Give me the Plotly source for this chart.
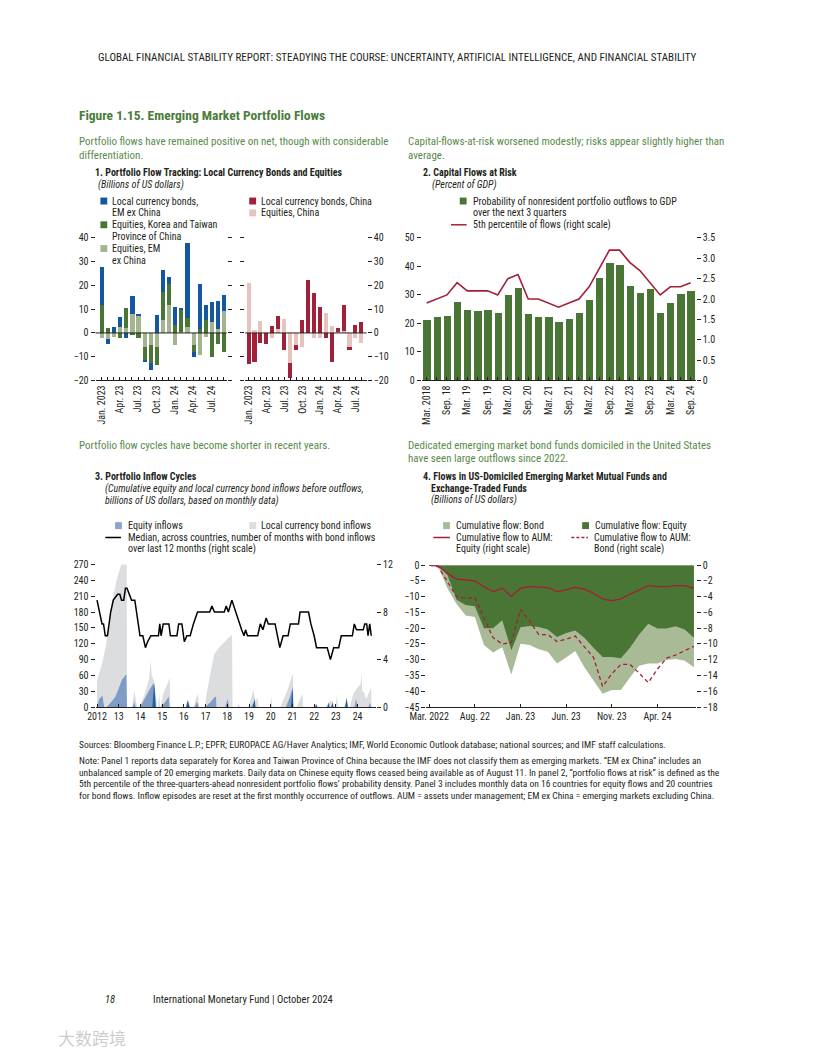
import plotly.graph_objects as go

W, H = 816, 1056
OFF = 8  # body margin of the page
def px(x): return (x - OFF) / W
def py(y): return 1 - (y - OFF) / H

FONT = "Liberation Sans Narrow, Roboto Condensed, DejaVu Sans Condensed, Arial Narrow, sans-serif"
TXT = "#231F20"
BLUE = "#12579F"
DGREEN = "#4A7635"
LGREEN = "#A3B58E"
RED = "#A3203A"
PINK = "#E6C4BE"
TGREEN = "#4C7C3A"
SGREEN = "#5A8A4A"

# ---------------- Panel 1 data ----------------
p1_ticktext = ["Jan. 2023", "", "", "Apr. 23", "", "", "Jul. 23", "", "", "Oct. 23", "", "",
               "Jan. 24", "", "", "Apr. 24", "", "", "Jul. 24", "", ""]
eq_em_ex_china = [-2, -2.5, -1.8, 2.7, 2.2, 8, 7.2, -6, -5, -6, 5.5, 11.8, -5.2, 0.5, 2.7, -5, -9.3, -1.5, 4.7, 1.8, 9.3]
eq_korea_taiwan = [12, 2.2, 0.6, -2, 8.3, -0.8, -2.3, -5.5, -7.5, -7.5, 11.8, 8.7, 3.5, 9.3, 3.6, -3, 1.8, 5.5, -10.3, -4.5, -8.2]
lcb_em_ex_china = [16, -2, 2, 4.1, -2, 7.5, 0.8, -0.7, -3, 7.5, 9.2, 3, 7.5, 0.7, 31.7, -2, 18.7, 6.3, 8.3, 11.7, 6.7]
eq_china = [21, 1.2, 5, 0, -2, 1.5, 6, -12.5, -5, -6, 0, -2, -2.2, 8.5, 3, 0.5, 1, -6, -2, -4]
lcb_china = [-13, -12, -4, -4.7, 3, 5.5, -7.2, -6.5, -2, 5.5, 22.5, 17, 11, -2, -12, 1.5, 11, -1, 3.5, 4.6]

# ---------------- Panel 2 data ----------------
p2_ticktext = ["Mar. 2018", "", "Sep. 18", "", "Mar. 19", "", "Sep. 19", "", "Mar. 20", "", "Sep. 20", "",
               "Mar. 21", "", "Sep. 21", "", "Mar. 22", "", "Sep. 22", "", "Mar. 23", "", "Sep. 23", "",
               "Mar. 24", "", "Sep. 24"]
prob_outflows = [21.3, 22.3, 22.7, 27.5, 24.8, 24.4, 24.8, 23.7, 30.0, 32.4, 23.4, 22.3, 22.3, 20.6,
                 21.6, 23.7, 28.2, 35.9, 41.1, 40.7, 33.1, 30.7, 32.1, 23.7, 27.2, 30.3, 31.5]
pct5_flows = [1.9, 2.0, 2.1, 2.4, 2.2, 2.2, 2.2, 2.1, 2.5, 2.6, 2.0, 2.0, 1.9, 1.8, 1.9, 2.0, 2.3,
              2.75, 3.2, 3.2, 2.9, 2.7, 2.4, 2.1, 2.3, 2.3, 2.4]

# ---------------- Panel 3 data ----------------
p3_tickvals = list(range(2012, 2025))
p3_ticktext = ["2012", "13", "14", "15", "16", "17", "18", "19", "20", "21", "22", "23", "24"]
bond_t = [2012.00, 2012.25, 2012.45, 2012.70, 2012.90, 2013.15, 2013.37, 2013.38,
          2013.62, 2013.72, 2013.80, 2013.86,
          2013.97, 2014.20, 2014.40, 2014.47, 2014.52, 2014.62, 2014.70, 2014.78,
          2014.80, 2014.86, 2014.91,
          2014.93, 2015.05, 2015.20, 2015.35, 2015.38,
          2016.10, 2016.20, 2016.30,
          2016.45, 2016.55, 2016.65, 2016.70,
          2016.97, 2017.05, 2017.25, 2017.40, 2017.60, 2017.85, 2018.05, 2018.22, 2018.24,
          2018.45, 2018.52, 2018.58,
          2018.98, 2019.08, 2019.20, 2019.30, 2019.38, 2019.45,
          2019.97, 2020.02, 2020.07,
          2020.45, 2020.60, 2020.80, 2020.95, 2021.02, 2021.05,
          2021.20, 2021.35, 2021.45, 2021.50,
          2021.95, 2022.05, 2022.12,
          2022.55, 2022.70, 2022.85, 2022.92,
          2022.98, 2023.05, 2023.10,
          2023.40, 2023.50, 2023.58,
          2023.65, 2023.80, 2024.00, 2024.15, 2024.18, 2024.22, 2024.30, 2024.40, 2024.55, 2024.62, 2024.64]
bond_v = [50, 85, 125, 200, 240, 275, 275, 0,
          0, 32, 10, 0,
          0, 25, 55, 87, 60, 50, 25, 0,
          0, 25, 0,
          0, 25, 40, 55, 0,
          0, 15, 0,
          0, 15, 25, 0,
          0, 25, 70, 100, 112, 122, 131, 137, 0,
          0, 6, 0,
          0, 15, 32, 10, 18, 0,
          0, 20, 0,
          0, 15, 35, 55, 63, 0,
          0, 15, 25, 0,
          0, 6, 0,
          0, 10, 12, 0,
          0, 22, 0,
          0, 10, 0,
          0, 25, 37, 45, 67, 30, 28, 15, 30, 37, 0]
eq_t = [2012.00, 2012.10, 2012.25, 2012.33,
        2012.45, 2012.70, 2012.85, 2013.00, 2013.15, 2013.35, 2013.38,
        2013.65, 2013.72, 2013.78,
        2013.98, 2014.25, 2014.45, 2014.60, 2014.66, 2014.72,
        2014.95, 2015.15, 2015.30, 2015.34,
        2016.50, 2016.60, 2016.68,
        2016.98, 2017.20, 2017.40, 2017.48, 2017.50,
        2017.90, 2018.02, 2018.08,
        2019.10, 2019.20, 2019.26,
        2020.70, 2020.85, 2021.00, 2021.03,
        2022.05, 2022.10, 2022.15,
        2022.60, 2022.66, 2022.72, 2022.78, 2022.84, 2022.90,
        2023.40, 2023.50, 2023.56,
        2023.85, 2023.93, 2024.00,
        2024.50, 2024.57, 2024.62]
eq_v = [0, 15, 22, 0,
        0, 12, 20, 35, 52, 62, 0,
        0, 10, 0,
        0, 20, 35, 45, 35, 0,
        0, 10, 20, 0,
        0, 10, 0,
        0, 8, 18, 20, 0,
        0, 15, 0,
        0, 8, 0,
        0, 15, 35, 0,
        0, 5, 0,
        0, 8, 0, 0, 8, 0,
        0, 17, 0,
        0, 15, 0,
        0, 8, 0]
eq_dark_t = [2014.55, 2014.63, 2014.70,
             2016.10, 2016.18, 2016.26,
             2019.18, 2019.25, 2019.30,
             2020.93, 2021.01, 2021.04,
             2022.06, 2022.10, 2022.14,
             2022.62, 2022.66, 2022.70, 2022.80, 2022.84, 2022.88,
             2023.44, 2023.50, 2023.54]
eq_dark_v = [0, 47, 0, 0, 13, 0, 0, 16, 0, 0, 39, 0, 0, 5, 0, 0, 8, 0, 0, 9, 0, 0, 17, 0]
median_t = [2012.00, 2012.12, 2012.23, 2012.30, 2012.38, 2012.48, 2012.63, 2012.75, 2012.95, 2013.05,
            2013.13, 2013.23, 2013.31, 2013.38, 2013.50, 2013.59, 2013.74, 2013.88, 2013.98, 2014.11,
            2014.23, 2014.33, 2014.48, 2014.83, 2014.89, 2014.95, 2015.05, 2015.31, 2015.38, 2015.68,
            2015.76, 2015.91, 2016.02, 2016.14, 2016.29, 2016.44, 2016.63, 2017.19, 2017.29, 2017.41,
            2017.86, 2017.95, 2018.05, 2018.21, 2018.39, 2018.54, 2018.66, 2018.77, 2018.84, 2018.93,
            2019.40, 2019.52, 2019.64, 2019.79, 2019.89, 2020.20, 2020.30, 2020.42, 2020.57, 2020.80,
            2020.90, 2021.28, 2021.35, 2021.74, 2021.85, 2022.00, 2022.11, 2022.60, 2022.75, 2022.90,
            2023.13, 2023.25, 2023.76, 2023.85, 2023.95, 2024.26, 2024.33, 2024.42, 2024.48, 2024.56, 2024.63]
median_v = [9, 8, 7, 7, 6, 6, 8, 9, 9.5, 9.5,
            9, 9, 10, 10, 9.5, 9, 9, 7, 6, 6,
            5, 5.5, 6, 6, 7, 6, 7, 7, 6, 6,
            7, 7, 5.5, 6, 6, 7, 8, 8, 8.5, 8,
            8, 8.5, 8, 9, 8, 7, 6.5, 6, 6.5, 6,
            6, 7, 6.5, 7.5, 7, 7, 6, 5, 6, 6,
            7, 7, 8, 8, 7, 6, 5, 5, 4, 5,
            5, 6, 6, 7, 6.5, 6.5, 7, 7, 6, 7, 6]

# ---------------- Panel 4 data ----------------
p4_tickvals = [0, 5, 10, 15, 20, 25]
p4_ticktext = ["Mar. 2022", "Aug. 22", "Jan. 23", "Jun. 23", "Nov. 23", "Apr. 24"]
p4_month_index = list(range(30))
cum_flow_equity = [0, -0.3, -3.1, -11, -12.6, -13, -20, -20, -17.5, -27, -19.7, -19.3, -19.6, -20.4, -22.8,
                   -21.5, -20.7, -23, -26.2, -29.1, -29.1, -29.5, -26.2, -22, -18.6, -20.1, -20.1, -19.4, -20.4, -23]
cum_flow_bond = [0, -0.5, -7.3, -12.3, -16, -16.4, -25.3, -27.7, -26, -34.7, -24.9, -25.3, -26.7, -27.5, -31.2,
                 -29.3, -27.2, -32.4, -36.6, -40.8, -39.6, -39.6, -35.6, -31.9, -31.2, -31.2, -30.1, -29.8, -30.3, -32.4]
aum_equity = [0, -0.08, -1.05, -1.76, -1.88, -2.0, -2.72, -3.35, -2.93, -3.97, -2.93, -2.72, -2.8, -2.85, -3.35,
              -3.14, -2.8, -3.05, -3.56, -4.27, -4.52, -4.27, -3.68, -3.14, -2.59, -2.72, -2.72, -2.59, -2.59, -2.93]
aum_bond = [0, -0.2, -2.1, -4.0, -4.2, -4.1, -6.7, -9.2, -10.0, -9.8, -5.6, -7.1, -8.8, -8.8, -9.7,
            -9.4, -9.0, -10.3, -11.7, -15.4, -13.8, -12.6, -12.6, -13.7, -14.9, -13.2, -11.8, -11.4, -10.9, -10.3]

fig = go.Figure()

# Panel 1 left
idx1 = list(range(len(eq_em_ex_china)))
for vals, col in [(eq_em_ex_china, LGREEN), (eq_korea_taiwan, DGREEN), (lcb_em_ex_china, BLUE)]:
    fig.add_trace(go.Bar(x=idx1, y=vals, marker=dict(color=col, line=dict(width=0)), width=0.68,
                         xaxis="x", yaxis="y", showlegend=False))
idx1b = list(range(len(eq_china)))
for vals, col in [(eq_china, PINK), (lcb_china, RED)]:
    fig.add_trace(go.Bar(x=idx1b, y=vals, marker=dict(color=col, line=dict(width=0)), width=0.68,
                         xaxis="x2", yaxis="y2", showlegend=False))

# Panel 2
idx2 = list(range(len(prob_outflows)))
fig.add_trace(go.Bar(x=idx2, y=prob_outflows, marker=dict(color=DGREEN, line=dict(width=0)), width=0.72,
                     xaxis="x3", yaxis="y3", showlegend=False))
fig.add_trace(go.Scatter(x=idx2, y=pct5_flows, mode="lines", line=dict(color=RED, width=1.6),
                         xaxis="x3", yaxis="y4", showlegend=False))

# Panel 3
fig.add_trace(go.Scatter(x=bond_t, y=bond_v, mode="none", fill="tozeroy", fillcolor="#DCDDDF",
                         xaxis="x4", yaxis="y5", showlegend=False))
fig.add_trace(go.Scatter(x=eq_t, y=eq_v, mode="none", fill="tozeroy", fillcolor="rgba(110,145,195,0.85)",
                         xaxis="x4", yaxis="y5", showlegend=False))
fig.add_trace(go.Scatter(x=eq_dark_t, y=eq_dark_v, mode="none", fill="tozeroy", fillcolor="#1F5DA3",
                         xaxis="x4", yaxis="y5", showlegend=False))
fig.add_trace(go.Scatter(x=median_t, y=median_v, mode="lines", line=dict(color="black", width=1.5),
                         xaxis="x4", yaxis="y6", showlegend=False))

# Panel 4
fig.add_trace(go.Scatter(x=p4_month_index, y=cum_flow_bond, mode="none", fill="tozeroy", fillcolor="#A9BA97",
                         xaxis="x5", yaxis="y7", showlegend=False))
fig.add_trace(go.Scatter(x=p4_month_index, y=cum_flow_equity, mode="none", fill="tozeroy", fillcolor=DGREEN,
                         xaxis="x5", yaxis="y7", showlegend=False))
fig.add_trace(go.Scatter(x=p4_month_index, y=aum_equity, mode="lines", line=dict(color=RED, width=1.4),
                         xaxis="x5", yaxis="y8", showlegend=False))
fig.add_trace(go.Scatter(x=p4_month_index, y=aum_bond, mode="lines", line=dict(color=RED, width=1.3, dash="4px,3px"),
                         xaxis="x5", yaxis="y8", showlegend=False))

tickfont = dict(family=FONT, size=10, color=TXT)
common_y = dict(showgrid=False, zeroline=False, ticks="outside", ticklen=4, tickcolor=TXT, tickwidth=1,
                tickfont=tickfont, showline=False)
common_x = dict(showgrid=False, zeroline=False, showline=True, linecolor=TXT, linewidth=1,
                ticks="inside", ticklen=3, tickcolor=TXT, tickfont=tickfont)

p1_dom_y = [py(378.3), py(234.3)]
p3_dom_y = [py(708.3), py(564.3)]
p4_dom_y = [py(708.3), py(565.0)]

fig.update_layout(
    width=W, height=H, margin=dict(l=0, r=0, t=0, b=0),
    paper_bgcolor="white", plot_bgcolor="white", barmode="relative", bargap=0,
    font=dict(family=FONT, color=TXT),
    xaxis=dict(common_x, domain=[px(80), px(214)], range=[-0.96, 20.5], tickvals=idx1,
               ticktext=p1_ticktext, tickangle=-90, anchor="y"),
    yaxis=dict(common_y, domain=p1_dom_y, range=[-20, 40], dtick=10, anchor="x", mirror="ticks"),
    xaxis2=dict(common_x, domain=[px(233), px(357)], range=[-0.6, 19.85], tickvals=idx1b,
                ticktext=p1_ticktext[:20], tickangle=-90, anchor="y2"),
    yaxis2=dict(common_y, domain=p1_dom_y, range=[-20, 40], dtick=10, anchor="x2", side="right", mirror="ticks"),
    xaxis3=dict(common_x, domain=[px(413), px(693)], range=[-0.5, 26.5], tickvals=idx2,
                ticktext=p2_ticktext, tickangle=-90, anchor="y3"),
    yaxis3=dict(common_y, domain=p1_dom_y, range=[0, 50], dtick=10, anchor="x3"),
    yaxis4=dict(common_y, range=[0, 3.5], tickvals=[0, 0.5, 1, 1.5, 2, 2.5, 3, 3.5],
                ticktext=["0", "0.5", "1.0", "1.5", "2.0", "2.5", "3.0", "3.5"],
                anchor="x3", overlaying="y3", side="right"),
    xaxis4=dict(common_x, domain=[px(80), px(366.5)], range=[2011.93, 2024.85], tickvals=p3_tickvals,
                ticktext=p3_ticktext, tickangle=0, anchor="y5"),
    yaxis5=dict(common_y, domain=p3_dom_y, range=[0, 270], dtick=30, anchor="x4"),
    yaxis6=dict(common_y, range=[0, 12], tickvals=[0, 4, 8, 12], anchor="x4", overlaying="y5", side="right"),
    xaxis5=dict(common_x, domain=[px(418), px(693)], range=[-0.3, 29.2], tickvals=p4_tickvals,
                ticktext=p4_ticktext, tickangle=0, anchor="y7"),
    yaxis7=dict(common_y, domain=p4_dom_y, range=[-45, 0], dtick=5, anchor="x5"),
    yaxis8=dict(common_y, range=[-18, 0], dtick=2, anchor="x5", overlaying="y7", side="right"),
)

shapes = []
for xr, yr in [("x domain", "y"), ("x2 domain", "y2")]:
    shapes.append(dict(type="line", xref=xr, yref=yr, x0=0, x1=1, y0=0, y1=0,
                       line=dict(color=TXT, width=1), layer="above"))

annotations = []
def txt(x, y, s, size=10, color=TXT, bold=False, italic=False, xanchor="left"):
    if bold:
        s = f"<b>{s}</b>"
    if italic:
        s = f"<i>{s}</i>"
    annotations.append(dict(x=px(x), y=py(y), xref="paper", yref="paper", text=s, showarrow=False,
                            xanchor=xanchor, yanchor="middle", font=dict(family=FONT, size=size, color=color)))

def square(x, y, color, s=7):
    shapes.append(dict(type="rect", xref="paper", yref="paper", x0=px(x), x1=px(x + s),
                       y0=py(y + s / 2), y1=py(y - s / 2), fillcolor=color, line=dict(width=0)))

def legline(x0, x1, y, color, dash="solid", width=1.5):
    shapes.append(dict(type="line", xref="paper", yref="paper", x0=px(x0), x1=px(x1), y0=py(y), y1=py(y),
                       line=dict(color=color, width=width, dash=dash)))

# Header and titles
txt(388, 52, "GLOBAL FINANCIAL STABILITY REPORT: STEADYING THE COURSE: UNCERTAINTY, ARTIFICIAL INTELLIGENCE, AND FINANCIAL STABILITY",
    size=11, xanchor="center")
txt(61, 110, "Figure 1.15. Emerging Market Portfolio Flows", size=13.5, color=TGREEN, bold=True)
txt(61, 137, "Portfolio flows have remained positive on net, though with considerable", size=11, color=SGREEN)
txt(61, 151, "differentiation.", size=11, color=SGREEN)
txt(397, 137, "Capital-flows-at-risk worsened modestly; risks appear slightly higher than", size=11, color=SGREEN)
txt(397, 151, "average.", size=11, color=SGREEN)

# Panel 1 title & legend
txt(77, 168, "1. Portfolio Flow Tracking: Local Currency Bonds and Equities", size=10, bold=True)
txt(81, 181, "(Billions of US dollars)", size=10, italic=True)
square(85, 197, BLUE); txt(95, 197, "Local currency bonds,")
txt(95, 209, "EM ex China")
square(85, 221, DGREEN); txt(95, 221, "Equities, Korea and Taiwan")
txt(95, 233, "Province of China")
square(85, 245, LGREEN); txt(95, 245, "Equities, EM")
txt(95, 257, "ex China")
square(237, 197, RED); txt(247, 197, "Local currency bonds, China")
square(237, 209, PINK); txt(247, 209, "Equities, China")

# Panel 2 title & legend
txt(412, 168, "2. Capital Flows at Risk", size=10, bold=True)
txt(422, 181, "(Percent of GDP)", size=10, italic=True)
square(452, 197, DGREEN); txt(463, 197, "Probability of nonresident portfolio outflows to GDP")
txt(463, 209, "over the next 3 quarters")
legline(443, 459, 221, RED); txt(463, 221, "5th percentile of flows (right scale)")

# Panel 3
txt(61, 444, "Portfolio flow cycles have become shorter in recent years.", size=11, color=SGREEN)
txt(77, 475, "3. Portfolio Inflow Cycles", size=10, bold=True)
txt(88, 488, "(Cumulative equity and local currency bond inflows before outflows,", size=10, italic=True)
txt(88, 500, "billions of US dollars, based on monthly data)", size=10, italic=True)
square(100, 525, "#8AA6CF"); txt(111, 525, "Equity inflows")
square(237, 525, "#DCDDDF"); txt(247, 525, "Local currency bond inflows")
legline(90, 106, 537, "black"); txt(111, 537, "Median, across countries, number of months with bond inflows")
txt(111, 549, "over last 12 months (right scale)")

# Panel 4
txt(397, 444, "Dedicated emerging market bond funds domiciled in the United States", size=11, color=SGREEN)
txt(397, 457, "have seen large outflows since 2022.", size=11, color=SGREEN)
txt(412, 475, "4. Flows in US-Domiciled Emerging Market Mutual Funds and", size=10, bold=True)
txt(421, 487, "Exchange-Traded Funds", size=10, bold=True)
txt(421, 499, "(Billions of US dollars)", size=10, italic=True)
square(435, 525, "#A9BA97"); txt(446, 525, "Cumulative flow: Bond")
square(577, 525, DGREEN); txt(588, 525, "Cumulative flow: Equity")
legline(425, 442, 537, RED); txt(446, 537, "Cumulative flow to AUM:")
txt(446, 549, "Equity (right scale)")
legline(566, 583, 537, RED, dash="3px,2px"); txt(587, 537, "Cumulative flow to AUM:")
txt(587, 549, "Bond (right scale)")

# Sources and notes
txt(61, 746, "Sources: Bloomberg Finance L.P.; EPFR; EUROPACE AG/Haver Analytics; IMF, World Economic Outlook database; national sources; and IMF staff calculations.", size=9.5)
notes = [
    "Note: Panel 1 reports data separately for Korea and Taiwan Province of China because the IMF does not classify them as emerging markets. “EM ex China” includes an",
    "unbalanced sample of 20 emerging markets. Daily data on Chinese equity flows ceased being available as of August 11. In panel 2, “portfolio flows at risk” is defined as the",
    "5th percentile of the three-quarters-ahead nonresident portfolio flows’ probability density. Panel 3 includes monthly data on 16 countries for equity flows and 20 countries",
    "for bond flows. Inflow episodes are reset at the first monthly occurrence of outflows. AUM = assets under management; EM ex China = emerging markets excluding China.",
]
for i, n in enumerate(notes):
    txt(61, 762 + 12 * i, n, size=9.5)

# Footer
txt(88, 1004, "18", size=10.5, italic=True)
txt(137, 1004, "International Monetary Fund | October 2024", size=10.5)
annotations.append(dict(x=px(40), y=py(1042), xref="paper", yref="paper", text="大数跨境", showarrow=False,
                        xanchor="left", yanchor="middle",
                        font=dict(family="Noto Sans CJK SC", size=17, color="rgba(170,170,170,0.6)")))

fig.update_layout(shapes=shapes, annotations=annotations)
fig.write_html("out.html")
